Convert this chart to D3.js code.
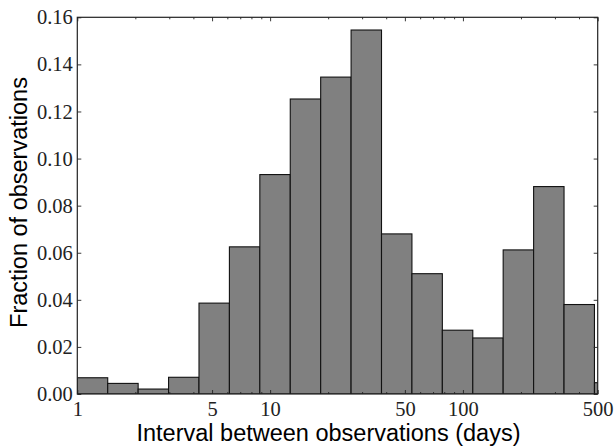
<!DOCTYPE html>
<html>
<head>
<meta charset="utf-8">
<script src="https://cdn.jsdelivr.net/npm/d3@7"></script>
<style>
  html, body { margin: 0; padding: 0; background: #fff; }
  svg { display: block; }
</style>
</head>
<body>
<script>
// ---- data ----
const binEdges = [1, 1.438, 2.068, 2.974, 4.277, 6.150, 8.844, 12.72, 18.29, 26.30, 37.82, 54.39, 78.21, 112.5, 161.7, 232.6, 334.5, 481.0, 691.7];
const fractions = [0.0069, 0.0045, 0.0021, 0.0071, 0.0386, 0.0625, 0.0932, 0.1253, 0.1346, 0.1546, 0.0680, 0.0511, 0.0271, 0.0238, 0.0612, 0.0881, 0.0380, 0.0048];
const xMajorTicks = [1, 5, 10, 50, 100, 500];
const xMinorTicks = [2, 3, 4, 6, 7, 8, 9, 20, 30, 40, 60, 70, 80, 90, 200, 300, 400];
const yTicks = [0, 0.02, 0.04, 0.06, 0.08, 0.10, 0.12, 0.14, 0.16];
const xLabel = "Interval between observations (days)";
const yLabel = "Fraction of observations";

// ---- layout ----
const W = 614, H = 447;
const m = { left: 77.3, right: W - 597.7, top: 17.3, bottom: H - 394 };
const iw = W - m.left - m.right, ih = H - m.top - m.bottom;

const svg = d3.select("body").append("svg").attr("width", W).attr("height", H);
svg.append("rect").attr("width", W).attr("height", H).attr("fill", "#fff");
const g = svg.append("g").attr("transform", `translate(${m.left},${m.top})`);

const x = d3.scaleLog().domain([1, 500]).range([0, iw]);
const y = d3.scaleLinear().domain([0, 0.16]).range([ih, 0]);

g.append("clipPath").attr("id", "clip").append("rect").attr("width", iw).attr("height", ih);

const bins = fractions.map((v, i) => ({ x0: binEdges[i], x1: binEdges[i + 1], v }));
g.append("g").attr("clip-path", "url(#clip)")
  .selectAll("rect").data(bins).join("rect")
  .attr("x", d => x(d.x0))
  .attr("width", d => x(d.x1) - x(d.x0))
  .attr("y", d => y(d.v))
  .attr("height", d => y(0) - y(d.v))
  .attr("fill", "#808080")
  .attr("stroke", "#111")
  .attr("stroke-width", 1.1);

const serif = "'Liberation Serif', 'Times New Roman', serif";
function styleAxis(sel, labels) {
  sel.select(".domain").remove();
  sel.selectAll(".tick line").attr("stroke", "#222").attr("stroke-width", 0.9);
  if (labels) {
    sel.selectAll(".tick text").attr("font-family", serif).attr("font-size", 20.5).attr("fill", "#222");
  } else {
    sel.selectAll(".tick text").remove();
  }
}

// bottom axis
g.append("g").attr("transform", `translate(0,${ih})`)
  .call(d3.axisBottom(x).tickValues(xMajorTicks).tickSize(-4).tickPadding(7).tickFormat(d3.format("d")))
  .call(s => styleAxis(s, true));
g.append("g").attr("transform", `translate(0,${ih})`)
  .call(d3.axisBottom(x).tickValues(xMinorTicks).tickSize(-2).tickFormat(""))
  .call(s => styleAxis(s, false));
// top axis
g.append("g")
  .call(d3.axisTop(x).tickValues(xMajorTicks).tickSize(-4).tickFormat(""))
  .call(s => styleAxis(s, false));
g.append("g")
  .call(d3.axisTop(x).tickValues(xMinorTicks).tickSize(-2).tickFormat(""))
  .call(s => styleAxis(s, false));
// left axis
g.append("g")
  .call(d3.axisLeft(y).tickValues(yTicks).tickSize(-4).tickPadding(4.5).tickFormat(d3.format(".2f")))
  .call(s => styleAxis(s, true));
// right axis
g.append("g").attr("transform", `translate(${iw},0)`)
  .call(d3.axisRight(y).tickValues(yTicks).tickSize(-4).tickFormat(""))
  .call(s => styleAxis(s, false));

// frame
g.append("rect").attr("width", iw).attr("height", ih)
  .attr("fill", "none").attr("stroke", "#222").attr("stroke-width", 1.2);

const sans = "'Liberation Sans', Arial, Helvetica, sans-serif";
svg.append("text")
  .attr("x", 328.5).attr("y", 441)
  .attr("text-anchor", "middle")
  .attr("font-family", sans).attr("font-size", 23.5).attr("fill", "#000")
  .text(xLabel);
svg.append("text")
  .attr("transform", `translate(${27},${202.5}) rotate(-90)`)
  .attr("text-anchor", "middle")
  .attr("font-family", sans).attr("font-size", 23.5).attr("fill", "#000")
  .text(yLabel);
</script>
</body>
</html>
